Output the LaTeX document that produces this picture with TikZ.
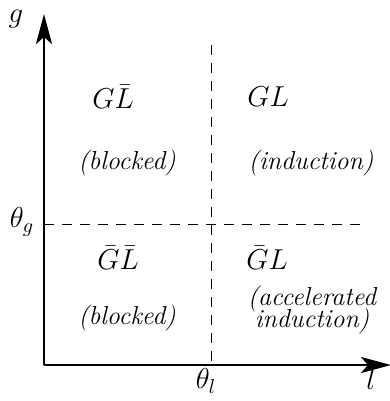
\documentclass[tikz,border=0pt]{standalone}
\usepackage{amsmath}
\usepackage{tikz}
\usetikzlibrary{arrows.meta, positioning}
\tikzset{
  axis/.style={line width=1.4pt, -{Stealth[length=15pt, width=8pt, inset=3.5pt]}},
  thresh/.style={dashed, line width=0.5pt, dash pattern=on 5pt off 4pt},
  quadlabel/.style={font=\fontsize{14}{16}\selectfont},
  quadnote/.style={font=\fontsize{13}{15}\selectfont\itshape, align=center},
  axlabel/.style={font=\fontsize{14}{16}\selectfont}
}

\begin{document}
\begin{tikzpicture}[x=0.5pt, y=-0.5pt]
  \useasboundingbox (0,0) rectangle (390,401);

  % Axes
  \coordinate (origin) at (44,365);
  \coordinate (gtop) at (44,14);
  \coordinate (lend) at (391,365);
  \draw[axis] (origin) -- (gtop);
  \draw[axis] (origin) -- (lend);
  \node[axlabel] (glab) at (16,19) {$g$};
  \node[axlabel] (llab) at (371,379) {$l$};

  % Thresholds
  \coordinate (tgstart) at (44,224);
  \coordinate (tgend) at (362,224);
  \coordinate (tltop) at (211,45);
  \coordinate (tlbot) at (211,365);
  \draw[thresh] (tgstart) -- (tgend);
  \draw[thresh] (tltop) -- (tlbot);
  \node[axlabel] (thetag) at (22,222) {$\theta_g$};
  \node[axlabel] (thetal) at (206,381) {$\theta_l$};

  % Quadrants
  \node[quadlabel] (GLb) at (113,97) {$G\bar{L}$};
  \node[quadnote] (GLbnote) at (127,163) {(blocked)};
  \node[quadlabel] (GL) at (268,97) {$GL$};
  \node[quadnote] (GLnote) at (311,163) {(induction)};
  \node[quadlabel] (GbLb) at (118,258) {$\bar{G}\bar{L}$};
  \node[quadnote] (GbLbnote) at (127,318) {(blocked)};
  \node[quadlabel] (GbL) at (267,258) {$\bar{G}L$};
  \node[quadnote] (GbLnote) at (312,310) {(accelerated\\[-4pt] induction)};
\end{tikzpicture}
\end{document}
